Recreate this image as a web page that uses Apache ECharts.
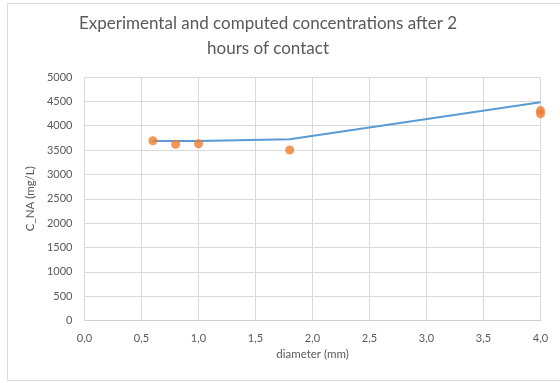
<!DOCTYPE html>
<html>
<head>
<meta charset="utf-8">
<script src="https://cdn.jsdelivr.net/npm/echarts@6/dist/echarts.min.js"></script>
<style>
html,body{margin:0;padding:0;background:#fff;}
#chart{width:560px;height:383px;}
</style>
</head>
<body>
<div id="chart"></div>
<script>
const titleText = 'Experimental and computed concentrations after 2\nhours of contact';
const xAxisName = 'diameter (mm)';
const yAxisName = 'C_NA (mg/L)';
const expDiameter = [0.6, 0.8, 1.0, 1.8, 4.0, 4.0];
const expConc = [3690, 3620, 3630, 3500, 4310, 4245];
const modelDiameter = [0.6, 0.8, 1.0, 1.8, 4.0];
const modelConc = [3685, 3685, 3688, 3720, 4480];

const chart = echarts.init(document.getElementById('chart'));
const font = 'Lato, "Open Sans", sans-serif';
const grey = '#595959';
chart.setOption({
  animation: false,
  backgroundColor: '#fff',
  textStyle: { fontFamily: font },
  title: {
    text: titleText,
    left: 263,
    top: 6,
    textAlign: 'center',
    textStyle: { fontFamily: font, fontSize: 17, fontWeight: 'normal', color: grey, lineHeight: 25, align: 'center' }
  },
  graphic: [{
    type: 'rect',
    shape: { x: 7.5, y: 3.5, width: 560, height: 377 },
    style: { fill: 'none', stroke: '#d9d9d9', lineWidth: 1 },
    silent: true
  }],
  grid: { left: 84.5, right: 19.5, top: 77, bottom: 62.5, containLabel: false },
  xAxis: {
    type: 'value', min: 0, max: 4, interval: 0.5,
    name: xAxisName, nameLocation: 'middle', nameGap: 28,
    nameTextStyle: { color: grey, fontSize: 11.5, fontFamily: font },
    axisLine: { show: true, lineStyle: { color: '#d0d0d0', width: 1 } },
    axisTick: { show: false },
    axisLabel: { color: grey, fontSize: 11, margin: 12, formatter: v => v.toFixed(1).replace('.', ',') },
    splitLine: { show: true, lineStyle: { color: '#d9d9d9', width: 1 } }
  },
  yAxis: {
    type: 'value', min: 0, max: 5000, interval: 500,
    name: yAxisName, nameLocation: 'middle', nameGap: 40, nameRotate: 90,
    nameTextStyle: { color: grey, fontSize: 11.5, fontFamily: font },
    axisLine: { show: false },
    axisTick: { show: false },
    axisLabel: { color: grey, fontSize: 11, margin: 12, formatter: v => String(v) },
    splitLine: { show: true, lineStyle: { color: '#d9d9d9', width: 1 } }
  },
  series: [{
    type: 'line',
    data: modelDiameter.map((d, i) => [d, modelConc[i]]),
    showSymbol: false,
    symbol: 'none',
    lineStyle: { color: '#5B9BD5', width: 2 },
    z: 2
  }, {
    type: 'scatter',
    data: expDiameter.map((d, i) => [d, expConc[i]]),
    symbol: 'circle',
    symbolSize: 9,
    itemStyle: { color: '#ED7D31' },
    z: 3
  }]
});
</script>
</body>
</html>
